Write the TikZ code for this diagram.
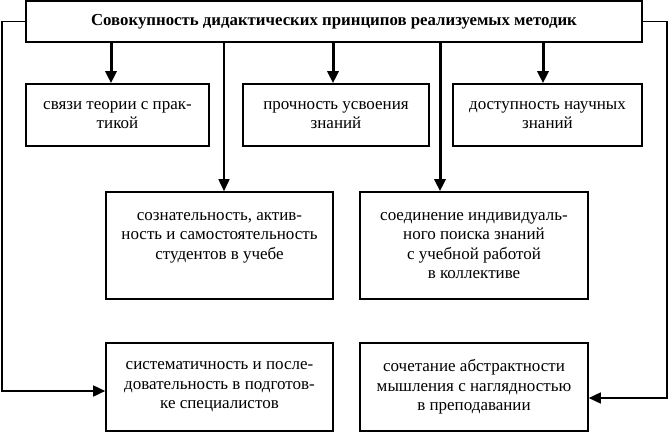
\documentclass[tikz,border=0pt]{standalone}
\usepackage{fontspec}
\setmainfont{Liberation Serif}
\usetikzlibrary{calc, arrows.meta}
\tikzset{>={Triangle[length=12pt,width=11pt]}}
\tikzset{
  blok/.style={draw, line width=1.6pt, align=center, inner sep=0pt,
    font=\fontsize{17}{19.5}\selectfont},
  tonk/.style={line width=1.6pt},
  tolst/.style={line width=3pt}
}

\begin{document}
\begin{tikzpicture}[x=1pt, y=-1pt]
\useasboundingbox (0,0) rectangle (669,433);
\node[blok, minimum width=616pt, minimum height=41pt,
  font=\fontsize{16.8}{19}\selectfont\bfseries] (top) at (334,21.5)
  {Совокупность дидактических принципов реализуемых методик};
% second row
\node[blok, minimum width=183pt, minimum height=62pt] (b1) at (117.5,115)
  {связи теории с прак-\\тикой};
\node[blok, minimum width=186pt, minimum height=62pt] (b2) at (336,115)
  {прочность усвоения\\знаний};
\node[blok, minimum width=189pt, minimum height=62pt] (b3) at (547.5,115)
  {доступность научных\\знаний};
% third row
\node[blok, minimum width=227pt, minimum height=107pt] (c1) at (219.5,245.5)
  {сознательность, актив-\\ность и самостоятельность\\студентов в учебе\\\mbox{}};
\node[blok, minimum width=228pt, minimum height=107pt] (c2) at (474,245.5)
  {соединение индивидуаль-\\ного поиска знаний\\с учебной работой\\в коллективе};
% fourth row
\node[blok, minimum width=227pt, minimum height=88pt] (d1) at (219.5,387)
  {систематичность и после-\\довательность в подготов-\\ке специалистов};
\node[blok, minimum width=228pt, minimum height=88pt] (d2) at (474,387)
  {сочетание абстрактности\\мышления с наглядностью\\в преподавании};

\coordinate (a1) at ($(b1.north)+(-6.5,0)$);
\coordinate (a2) at ($(b2.north)+(-3,0)$);
\coordinate (a3) at ($(b3.north)+(-4.5,0)$);
\coordinate (a4) at ($(c1.north)+(4.5,0)$);
\coordinate (a5) at ($(c2.north)+(-34,0)$);
\coordinate (lv) at (2,0);
\coordinate (rv) at (667,0);

\draw[tolst,->] (top.south -| a1) -- (a1);
\draw[tolst,->] (top.south -| a2) -- (a2);
\draw[tolst,->] (top.south -| a3) -- (a3);
\draw[tonk,->] (top.south -| a4) -- (a4);
\draw[tolst,->] (top.south -| a5) -- (a5);
\draw[tonk,->] (top.west) -- (top.west -| lv) |- ([yshift=-4pt]d1.west);
\draw[tonk,->] (top.east) -- (top.east -| rv) |- ([yshift=-11pt]d2.east);
\end{tikzpicture}
\end{document}
